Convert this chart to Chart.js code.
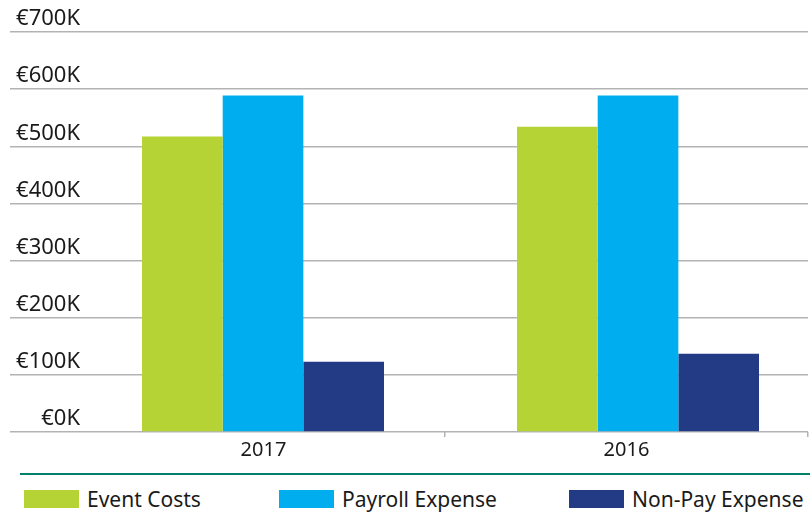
<!DOCTYPE html>
<html>
<head>
<meta charset="utf-8">
<script src="https://cdn.jsdelivr.net/npm/chart.js@4/dist/chart.umd.min.js"></script>
<style>
  html, body { margin: 0; padding: 0; background: #fff; overflow: hidden; }
  #wrap { position: relative; width: 810px; height: 517px; font-family: "Noto Sans", sans-serif; color: #1a1a1a; }
  #chartBox { position: absolute; left: 0; top: 0; width: 810px; height: 466px; }
  #rule { position: absolute; left: 20px; top: 473px; width: 790px; height: 2px; background: #00806b; }
  .lg { position: absolute; top: 485px; display: flex; align-items: center; font-size: 21px; white-space: nowrap; }
  .lg i { display: inline-block; width: 55px; height: 18px; margin-right: 8px; }
</style>
</head>
<body>
<div id="wrap">
  <div id="chartBox"><canvas id="c"></canvas></div>
  <div id="rule"></div>
  <div id="legend"></div>
</div>
<script>
"use strict";

// ── 数据 ──────────────────────────────────────────────
const years = ["2017", "2016"];
const seriesNames = ["Event Costs", "Payroll Expense", "Non-Pay Expense"];
const seriesColors = ["#b5d334", "#00adee", "#233a85"];
const eventCosts = [517, 534];
const payroll = [589, 589];
const nonPay = [123, 137];
const yTicks = [0, 100, 200, 300, 400, 500, 600, 700];
const legendLeft = [24, 279, 569];

const values = [eventCosts, payroll, nonPay];
const FONT = "'Noto Sans', sans-serif";

// ── 图例（HTML）──────────────────────────────────────
document.getElementById("legend").innerHTML = seriesNames
  .map((n, i) => `<div class="lg" style="left:${legendLeft[i]}px"><i style="background:${seriesColors[i]}"></i>${n}</div>`)
  .join("");

// ── 柱状图 ────────────────────────────────────────────
new Chart(document.getElementById("c"), {
  type: "bar",
  data: {
    datasets: values.map((arr, i) => ({
      label: seriesNames[i],
      data: arr.map((v, k) => ({ x: k, y: v })),
      backgroundColor: seriesColors[i],
      xAxisID: "xb",
      barPercentage: 1,
      categoryPercentage: 0.6453,
    })),
  },
  options: {
    responsive: true,
    maintainAspectRatio: false,
    animation: false,
    layout: { padding: { left: 10, top: 32, right: 2, bottom: 0 } },
    plugins: { legend: { display: false }, tooltip: { enabled: false } },
    scales: {
      // 柱子用的隐藏线性轴（组中心 0、1）
      xb: {
        type: "linear",
        display: false,
        offset: false,
        min: -0.4827,
        max: 1.4533,
        afterBuildTicks: (s) => { s.ticks = years.map((_, k) => ({ value: k })); },
      },
      x: {
        type: "category",
        labels: years,
        position: "bottom",
        offset: true,
        border: { display: false },
        grid: {
          offset: true,
          drawOnChartArea: false,
          drawTicks: true,
          tickLength: 5,
          lineWidth: 1.5,
          color: (ctx) => (ctx.index === 0 ? "rgba(0,0,0,0)" : "#b3b3b3"),
        },
        ticks: { color: "#1a1a1a", font: { family: FONT, size: 20 }, padding: 1 },
        afterFit: (s) => { s.height = 34; },
      },
      y: {
        min: 0,
        max: 700,
        afterBuildTicks: (s) => { s.ticks = yTicks.map((v) => ({ value: v })); },
        border: { display: false },
        grid: { color: "#b3b3b3", lineWidth: 1.5, drawTicks: true, tickLength: 72 },
        ticks: {
          color: "#1a1a1a",
          font: { family: FONT, size: 22 },
          padding: -70,
          labelOffset: -13,
          callback: (v) => "€" + v + "K",
        },
        afterFit: (s) => { s.width = 72; },
      },
    },
  },
});
</script>
</body>
</html>
